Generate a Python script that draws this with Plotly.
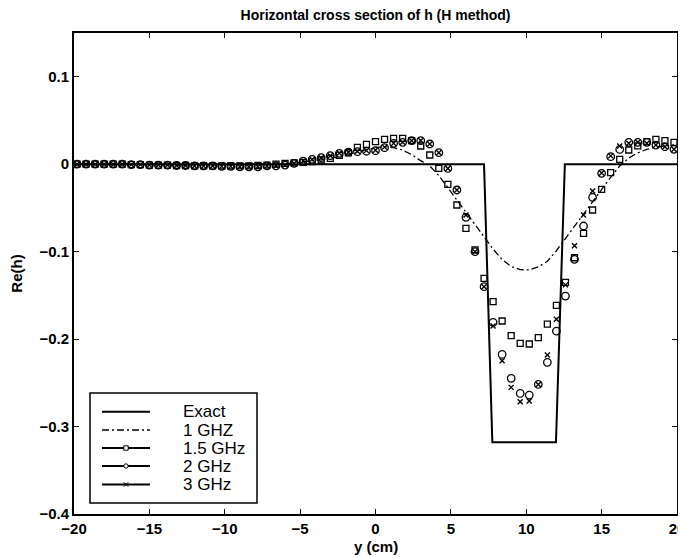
import plotly.graph_objects as go

# ---------------- data ----------------
x_grid = [-19.8, -19.2, -18.6, -18.0, -17.4, -16.8, -16.2, -15.6, -15.0, -14.4,
          -13.8, -13.2, -12.6, -12.0, -11.4, -10.8, -10.2, -9.6, -9.0, -8.4,
          -7.8, -7.2, -6.6, -6.0, -5.4, -4.8, -4.2, -3.6, -3.0, -2.4,
          -1.8, -1.2, -0.6, 0.0, 0.6, 1.2, 1.8, 2.4, 3.0, 3.6,
          4.2, 4.8, 5.4, 6.0, 6.6, 7.2, 7.8, 8.4, 9.0, 9.6,
          10.2, 10.8, 11.4, 12.0, 12.6, 13.2, 13.8, 14.4, 15.0, 15.6,
          16.2, 16.8, 17.4, 18.0, 18.6, 19.2, 19.8]

exact_x = [-20, 7.2, 7.75, 11.97, 12.56, 20]
exact_y = [0.0, 0.0, -0.318, -0.318, 0.0, 0.0]

h_1ghz = [0.0, 0.0, 0.0, 0.0, 0.0, 0.0, 0.0, 0.0, 0.0, -0.0005,
          -0.0005, -0.001, -0.001, -0.001, -0.001, -0.001, -0.001, -0.001, -0.0008, -0.0005,
          -0.0003, 0.0, 0.0, 0.0005, 0.0015, 0.0025, 0.0035, 0.005, 0.0065, 0.0085,
          0.011, 0.014, 0.0165, 0.019, 0.020, 0.019, 0.016, 0.011, 0.004, -0.002,
          -0.013, -0.027, -0.041, -0.055, -0.068, -0.083, -0.097, -0.109, -0.117, -0.1205,
          -0.121, -0.1175, -0.111, -0.099, -0.085, -0.070, -0.057, -0.043, -0.029, -0.015,
          -0.002, 0.007, 0.013, 0.017, 0.0195, 0.021, 0.022]

h_15ghz = [0.0, 0.0, 0.0, 0.0, 0.0, 0.0, -0.0005, -0.0005, -0.001, -0.001,
           -0.001, -0.0015, -0.0015, -0.002, -0.002, -0.002, -0.002, -0.002, -0.002, -0.002,
           -0.0015, -0.001, 0.0, 0.001, 0.0015, 0.002, 0.003, 0.0048, 0.0067, 0.010,
           0.0131, 0.0193, 0.0227, 0.0257, 0.0284, 0.0295, 0.0295, 0.027, 0.0208, 0.0105,
           -0.0048, -0.0231, -0.0467, -0.0734, -0.098, -0.1306, -0.1572, -0.1793, -0.1961, -0.2049,
           -0.2056, -0.1984, -0.1828, -0.1614, -0.1351, -0.107, -0.0791, -0.0524, -0.0288, -0.0097,
           0.0055, 0.0162, 0.021, 0.0257, 0.0284, 0.027, 0.025]

h_2ghz = [0.0, 0.0, 0.0, 0.0, 0.0, 0.0, -0.0005, -0.0005, -0.001, -0.001,
          -0.001, -0.0015, -0.0015, -0.002, -0.002, -0.002, -0.0025, -0.0025, -0.003, -0.003,
          -0.003, -0.002, -0.002, -0.001, 0.001, 0.0035, 0.0055, 0.0074, 0.0097, 0.0124,
          0.0137, 0.0143, 0.0148, 0.0155, 0.0189, 0.0238, 0.025, 0.0269, 0.0269, 0.0231,
          0.0132, -0.0048, -0.0295, -0.0608, -0.1001, -0.1401, -0.1809, -0.2175, -0.2449, -0.2621,
          -0.264, -0.2518, -0.2266, -0.1908, -0.1508, -0.1088, -0.0707, -0.0379, -0.0105, 0.0086,
          0.0169, 0.025, 0.025, 0.025, 0.0219, 0.020, 0.017]

h_3ghz = [0.0, 0.0, 0.0, 0.0, 0.0, 0.0, -0.0005, -0.0005, -0.001, -0.001,
          -0.001, -0.0015, -0.0015, -0.002, -0.002, -0.002, -0.0025, -0.0025, -0.003, -0.003,
          -0.003, -0.002, -0.002, -0.001, 0.001, 0.0035, 0.0055, 0.0074, 0.0097, 0.0124,
          0.0137, 0.0148, 0.0155, 0.016, 0.0195, 0.0238, 0.025, 0.0269, 0.0272, 0.0231,
          0.0132, -0.005, -0.0295, -0.058, -0.1001, -0.1401, -0.1851, -0.2247, -0.2552, -0.2716,
          -0.2708, -0.2518, -0.2182, -0.1774, -0.138, -0.0932, -0.0581, -0.0307, -0.010, 0.0095,
          0.0207, 0.024, 0.025, 0.024, 0.022, 0.020, 0.017]

x_ticks = [-20, -15, -10, -5, 0, 5, 10, 15, 20]
y_ticks = [-0.4, -0.3, -0.2, -0.1, 0, 0.1]
legend_labels = ["Exact", "1 GHZ", "1.5 GHz", "2 GHz", "3 GHz"]

title_text = "Horizontal cross section of h (H method)"
x_title = "y (cm)"
y_title = "Re(h)"

# ---------------- figure ----------------
# the page body has an 8px default margin, so the figure is offset by OFF
OFF = 8
W, H = 686 - OFF, 558 - OFF
L, T = 74 - OFF, 33 - OFF
R = W - (677 - OFF)
B = H - (514 - OFF)
PW, PH = W - L - R, H - T - B

DASHDOT = "7px,3px,2px,3px"

fig = go.Figure()
fig.add_trace(go.Scatter(x=exact_x, y=exact_y, mode="lines",
                         line=dict(color="black", width=2), showlegend=False))
fig.add_trace(go.Scatter(x=x_grid, y=h_1ghz, mode="lines",
                         line=dict(color="black", width=1.3, dash=DASHDOT), showlegend=False))
fig.add_trace(go.Scatter(x=x_grid, y=h_15ghz, mode="markers",
                         marker=dict(symbol="square-open", size=6, color="black",
                                     line=dict(width=1.3, color="black")), showlegend=False))
fig.add_trace(go.Scatter(x=x_grid, y=h_2ghz, mode="markers",
                         marker=dict(symbol="circle-open", size=7.5, color="black",
                                     line=dict(width=1.3, color="black")), showlegend=False))
fig.add_trace(go.Scatter(x=x_grid, y=h_3ghz, mode="markers",
                         marker=dict(symbol="x-thin-open", size=5, color="black",
                                     line=dict(width=1.4, color="black")), showlegend=False))


def px(xpage):
    """page pixel x -> paper fraction"""
    return (xpage - OFF - L) / PW


def py(ypage):
    """page pixel y -> paper fraction"""
    return (T + PH - (ypage - OFF)) / PH


FONT = "Liberation Sans, Arial, sans-serif"
axis_font = dict(family=FONT, size=15, color="black", weight="bold")

common_axis = dict(showline=True, linecolor="black", linewidth=2, mirror="ticks",
                   ticks="inside", ticklen=5, tickwidth=1.2, tickcolor="black",
                   showgrid=False, zeroline=False, tickfont=axis_font,
                   ticklabeloverflow="allow")

fig.update_layout(
    width=W, height=H,
    margin=dict(l=L, r=R, t=T, b=B, pad=0),
    paper_bgcolor="white", plot_bgcolor="white",
    title=dict(text=title_text, x=(L + PW / 2) / W, xanchor="center",
               y=1 - (15 - OFF) / H, yanchor="middle", yref="container",
               font=dict(family=FONT, size=14, color="black", weight="bold")),
    xaxis=dict(range=[-20, 20], tickvals=x_ticks, automargin=False, **common_axis),
    yaxis=dict(range=[-0.4, 0.15], tickvals=y_ticks, automargin=False,
               title=dict(text=y_title, standoff=22, font=axis_font), **common_axis),
    showlegend=False,
)

# ---------------- hand-drawn MATLAB-style legend (page pixel layout) ----------------
box = dict(x0=90, x1=257, y0=393, y1=503)
row_y = [411.7, 430, 448, 466, 484.5]
line_x0, line_x1, mark_x, text_x = 102, 150, 126, 181

shapes = [dict(type="rect", xref="paper", yref="paper",
               x0=px(box["x0"]), x1=px(box["x1"]), y0=py(box["y1"]), y1=py(box["y0"]),
               line=dict(color="black", width=1.5), fillcolor="white", layer="above")]
annotations = [dict(text=x_title, xref="paper", yref="paper", x=0.5, y=py(546),
                    xanchor="center", yanchor="middle", showarrow=False, font=axis_font)]
for i, (lab, yy) in enumerate(zip(legend_labels, row_y)):
    dash = DASHDOT if i == 1 else "solid"
    wid = 1.3 if i == 1 else 2
    shapes.append(dict(type="line", xref="paper", yref="paper",
                       x0=px(line_x0), x1=px(line_x1), y0=py(yy), y1=py(yy),
                       line=dict(color="black", width=wid, dash=dash)))
    s = 2.2
    if i == 2:
        shapes.append(dict(type="rect", xref="paper", yref="paper",
                           x0=px(mark_x - s), x1=px(mark_x + s), y0=py(yy + s), y1=py(yy - s),
                           line=dict(color="black", width=1), fillcolor="white"))
    elif i == 3:
        shapes.append(dict(type="circle", xref="paper", yref="paper",
                           x0=px(mark_x - s), x1=px(mark_x + s), y0=py(yy + s), y1=py(yy - s),
                           line=dict(color="black", width=1), fillcolor="white"))
    elif i == 4:
        shapes.append(dict(type="line", xref="paper", yref="paper",
                           x0=px(mark_x - s), x1=px(mark_x + s), y0=py(yy + s), y1=py(yy - s),
                           line=dict(color="black", width=1)))
        shapes.append(dict(type="line", xref="paper", yref="paper",
                           x0=px(mark_x - s), x1=px(mark_x + s), y0=py(yy - s), y1=py(yy + s),
                           line=dict(color="black", width=1)))
    annotations.append(dict(text=lab, xref="paper", yref="paper", x=px(text_x), y=py(yy),
                            xanchor="left", yanchor="middle", showarrow=False,
                            font=dict(family=FONT, size=17, color="black")))

fig.update_layout(shapes=shapes, annotations=annotations)

fig.write_html("out.html")
